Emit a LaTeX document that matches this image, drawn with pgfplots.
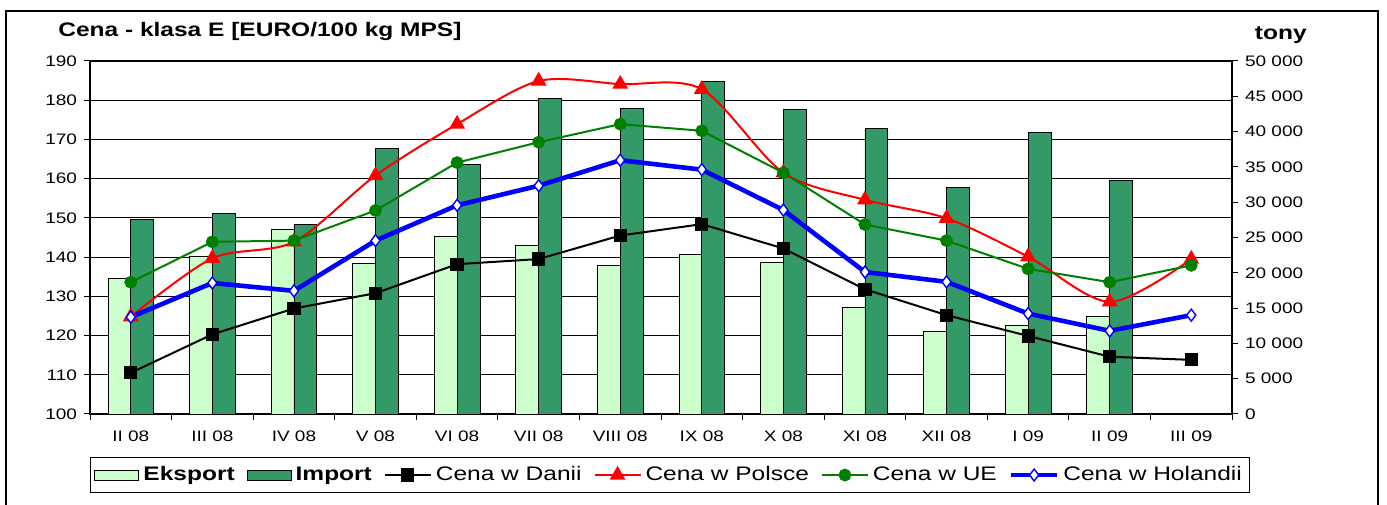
\documentclass[border=0pt]{standalone}
\usepackage{pgfplots}
\pgfplotsset{compat=1.18}
\usepackage{fontspec}
\setmainfont{Liberation Sans}[FakeStretch=1.25]
\definecolor{eks}{HTML}{CCFFCC}
\definecolor{imp}{HTML}{339966}
\definecolor{ue}{HTML}{008000}
\newcommand{\tickfont}{\fontsize{7.6bp}{9bp}\selectfont}
\newcommand{\legfont}{\fontsize{9.8bp}{11bp}\selectfont}
\begin{document}
\begin{tikzpicture}[x=0.5bp,y=0.5bp]
\useasboundingbox (0,0) rectangle (1387,505);
\draw[line width=1.3bp] (6,-30) -- (6,494) -- (1378,494) -- (1378,-30);
\node[anchor=base west, font=\fontsize{9.8bp}{11bp}\selectfont\bfseries, inner sep=0] at (58,468) {Cena - klasa E [EURO/100 kg MPS]};
\node[anchor=base east, font=\fontsize{9.8bp}{11bp}\selectfont\bfseries, inner sep=0] at (1307,465) {tony};
% bars axis (right scale)
\begin{axis}[
  at={(45bp,45.5bp)}, anchor=south west, scale only axis,
  width=571bp, height=176.5bp,
  xmin=-0.5, xmax=13.5, ymin=0, ymax=50000,
  xtick={-0.5,0.5,...,13.5},
  xticklabels={II 08,III 08,IV 08,V 08,VI 08,VII 08,VIII 08,IX 08,X 08,XI 08,XII 08,I 09,II 09,III 09,{}},
  xticklabel style={xshift=20.4bp, yshift=-2bp, font=\tickfont},
  ytick={0,5000,...,50000},
  scaled y ticks=false,
  yticklabel style={font=\tickfont, /pgf/number format/.cd, fixed, 1000 sep={\ }, assume math mode=true},
  yticklabel pos=right, ytick pos=right, xtick pos=left,
  extra y ticks={5555.56,11111.11,16666.67,22222.22,27777.78,33333.33,38888.89,44444.44,50000},
  extra y tick labels={},
  extra y tick style={grid=major, major tick length=0pt},
  grid style={black, line width=0.5bp},
  axis line style={black, line width=0.6bp},
  tick align=outside, major tick length=3bp, tick style={black, line width=0.5bp},
  ybar, bar width=0.28,
]
\addplot[draw=black, line width=0.4bp, fill=eks, bar shift=-0.14] coordinates {
(0,19200) (1,22270) (2,26150) (3,21280) (4,25160) (5,23830) (6,21050)
(7,22660) (8,21480) (9,15050) (10,11750) (11,12500) (12,13830)};
\addplot[draw=black, line width=0.4bp, fill=imp, bar shift=0.14] coordinates {
(0,27570) (1,28420) (2,26900) (3,37570) (4,35350) (5,44650) (6,43280)
(7,47060) (8,43140) (9,40400) (10,32150) (11,39930) (12,33090)};
\end{axis}
% lines axis (left scale)
\begin{axis}[
  at={(45bp,45.5bp)}, anchor=south west, scale only axis,
  width=571bp, height=176.5bp,
  xmin=-0.5, xmax=13.5, ymin=100, ymax=190,
  axis x line=none, axis y line*=left,
  ytick={100,110,...,190}, ytick pos=left,
  yticklabel style={font=\tickfont},
  /pgf/number format/assume math mode=true,
  axis line style={black, line width=0.6bp},
  tick align=outside, major tick length=3bp, tick style={black, line width=0.5bp},
  legend columns=6,
  legend style={at={(0.508,-0.173)}, anchor=center, draw=black, line width=0.5bp,
    font=\legfont, inner xsep=2bp, inner ysep=2.5bp,
    /tikz/every even column/.append style={column sep=4bp}},
  legend image code/.code={\draw[mark repeat=2,mark phase=2] plot coordinates {(0bp,0bp) (11.5bp,0bp) (23bp,0bp)};},
]
\addlegendimage{legend image code/.code={\draw[fill=eks, draw=black, line width=0.5bp] (0bp,-2.5bp) rectangle (22bp,2.5bp);}}
\addlegendentry{\textbf{Eksport}}
\addlegendimage{legend image code/.code={\draw[fill=imp, draw=black, line width=0.5bp] (0bp,-2.5bp) rectangle (22bp,2.5bp);}}
\addlegendentry{\textbf{Import}}
\addplot[black, line width=1bp, mark=square*, mark size=2.8bp, mark options={solid}] coordinates {
(0,110.5) (1,120.3) (2,126.9) (3,130.8) (4,138.2) (5,139.5) (6,145.5)
(7,148.4) (8,142.2) (9,131.8) (10,125.2) (11,119.9) (12,114.6) (13,113.8)};
\addlegendentry{Cena w Danii}
\addplot[red, line width=1bp, smooth, mark=triangle*, mark size=3.6bp, mark options={solid}] coordinates {
(0,124.8) (1,139.7) (2,143.9) (3,160.8) (4,173.9) (5,184.9) (6,184.1)
(7,182.8) (8,161.5) (9,154.6) (10,149.9) (11,140.1) (12,128.6) (13,139.5)};
\addlegendentry{Cena w Polsce}
\addplot[ue, line width=1bp, mark=*, mark size=2.7bp, mark options={solid}] coordinates {
(0,133.6) (1,143.9) (2,144.2) (3,151.9) (4,164.1) (5,169.3) (6,173.9)
(7,172.2) (8,161.5) (9,148.3) (10,144.2) (11,137.0) (12,133.6) (13,137.9)};
\addlegendentry{Cena w UE}
\addplot[blue, line width=2.3bp, mark=diamond*, mark size=3bp, mark options={solid, fill=white, draw=blue, line width=0.7bp}] coordinates {
(0,124.7) (1,133.4) (2,131.4) (3,144.2) (4,153.2) (5,158.2) (6,164.7)
(7,162.3) (8,152.0) (9,136.2) (10,133.7) (11,125.6) (12,121.2) (13,125.2)};
\addlegendentry{Cena w Holandii}
\end{axis}
\end{tikzpicture}
\end{document}
